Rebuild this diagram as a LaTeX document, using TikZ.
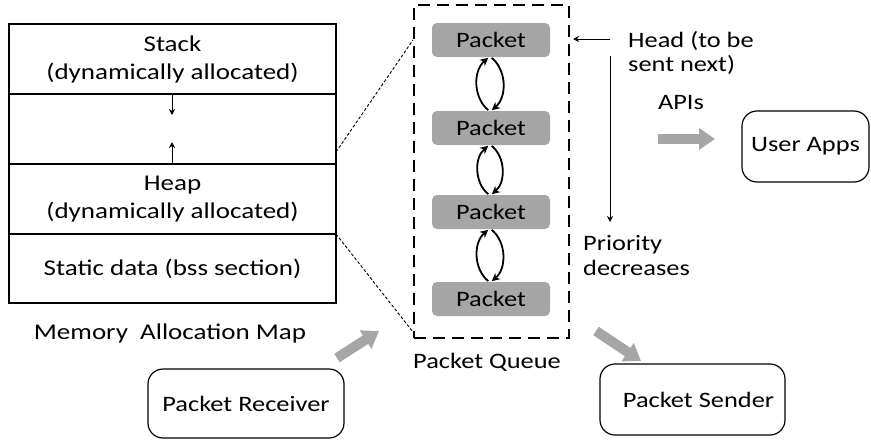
\documentclass[tikz,border=0pt]{standalone}
\usepackage{fontspec}
\setmainfont{Carlito}[FakeStretch=1.2]
\usetikzlibrary{arrows.meta}
\definecolor{pktgray}{HTML}{A6A6A6}
\begin{document}
\begin{tikzpicture}[x=1pt,y=-1pt,
  txt/.style={font=\fontsize{22}{25}\selectfont, inner sep=0pt},
  memtxt/.style={font=\fontsize{22.5}{28}\selectfont, align=center},
  memseg/.style={draw=black, line width=1.3pt, minimum width=327pt, inner sep=0pt, memtxt},
  pkt/.style={fill=pktgray, rounded corners=5pt, minimum width=118pt, minimum height=34pt, inner sep=0pt, txt},
  appbox/.style={draw=black, line width=1.2pt, rounded corners=15pt, inner sep=0pt, txt},
  link/.style={line width=1.8pt, -{Stealth[length=8pt,width=8pt]}, shorten >=1pt, shorten <=1pt},
  thinarrow/.style={line width=1pt, -{Stealth[length=6pt,width=6pt]}},
  blockarrow/.style={draw=pktgray, line width=10pt, -{Triangle[length=16pt,width=21pt]}},
  zoomline/.style={line width=0.9pt, dash pattern=on 3pt off 2pt}
]
\useasboundingbox (0,0) rectangle (871,440);

% memory map
\node[memseg, minimum height=70pt] (stack) at (172.5,59) {Stack\\(dynamically allocated)};
\node[memseg, minimum height=70pt] (gap) at (172.5,129) {};
\node[memseg, minimum height=70pt] (heap) at (172.5,199) {Heap\\(dynamically allocated)};
\node[memseg, minimum height=69pt] (static) at (172.5,268.5) {Static data (bss section)};
\node[memtxt] (memlabel) at (170,333) {Memory\ \ Allocation Map};

\coordinate (gdown) at (172,115);
\coordinate (gup) at (172,142);
\draw[thinarrow] (gap.north -| gdown) -- (gdown);
\draw[thinarrow] (heap.north -| gup) -- (gup);

% packet queue
\node[draw=black, line width=2pt, dash pattern=on 12pt off 7pt, minimum width=155pt, minimum height=333pt, inner sep=0pt] (queue) at (491.5,171.5) {};
\node[txt] (qlabel) at (487,362) {Packet Queue};

\node[pkt] (p1) at (491,40) {Packet};
\node[pkt] (p2) at (491,128) {Packet};
\node[pkt] (p3) at (491,212) {Packet};
\node[pkt] (p4) at (491,299) {Packet};

\foreach \a/\b in {p1/p2, p2/p3, p3/p4}{
  \draw[link] ([xshift=-2pt]\b.north) to[bend left=50] ([xshift=-2pt]\a.south);
  \draw[link] ([xshift=0pt]\a.south) to[bend left=50] ([xshift=0pt]\b.north);
}

% zoom lines
\coordinate (z1a) at (336,152);
\coordinate (z1b) at (413,40);
\coordinate (z2a) at (336,234);
\coordinate (z2b) at (413,332);
\draw[zoomline] (z1a) -- (z1b);
\draw[zoomline] (z2a) -- (z2b);

% head & priority
\node[txt, anchor=west, align=left, font=\fontsize{22}{24}\selectfont] (head) at (628,53) {Head (to be\\sent next)};
\coordinate (hstart) at (610,39);
\coordinate (hend) at (573,39);
\draw[thinarrow] (hstart) -- (hend);
\coordinate (pstart) at (610,56);
\coordinate (pend) at (610,222);
\draw[thinarrow] (pstart) -- (pend);
\node[txt, anchor=west, align=left, font=\fontsize{22}{25}\selectfont] (prio) at (583,255.5) {Priority\\decreases};

% APIs
\node[txt] (apis) at (681,103) {APIs};
\node[appbox, minimum width=127pt, minimum height=71pt] (user) at (805.5,146.5) {User Apps};
\coordinate (api1) at (658,139);
\coordinate (api2) at (715,139);
\draw[blockarrow] (api1) -- (api2);

% receiver / sender
\node[appbox, minimum width=196pt, minimum height=69pt] (recv) at (246,403.5) {Packet Receiver};
\node[appbox, minimum width=185pt, minimum height=71pt] (send) at (692.5,399.5) {\hspace*{12pt}Packet Sender};
\coordinate (r1) at (337,358);
\coordinate (r2) at (379,331);
\draw[blockarrow] (r1) -- (r2);
\coordinate (s1) at (596,331);
\coordinate (s2) at (641,361);
\draw[blockarrow] (s1) -- (s2);
\end{tikzpicture}
\end{document}
